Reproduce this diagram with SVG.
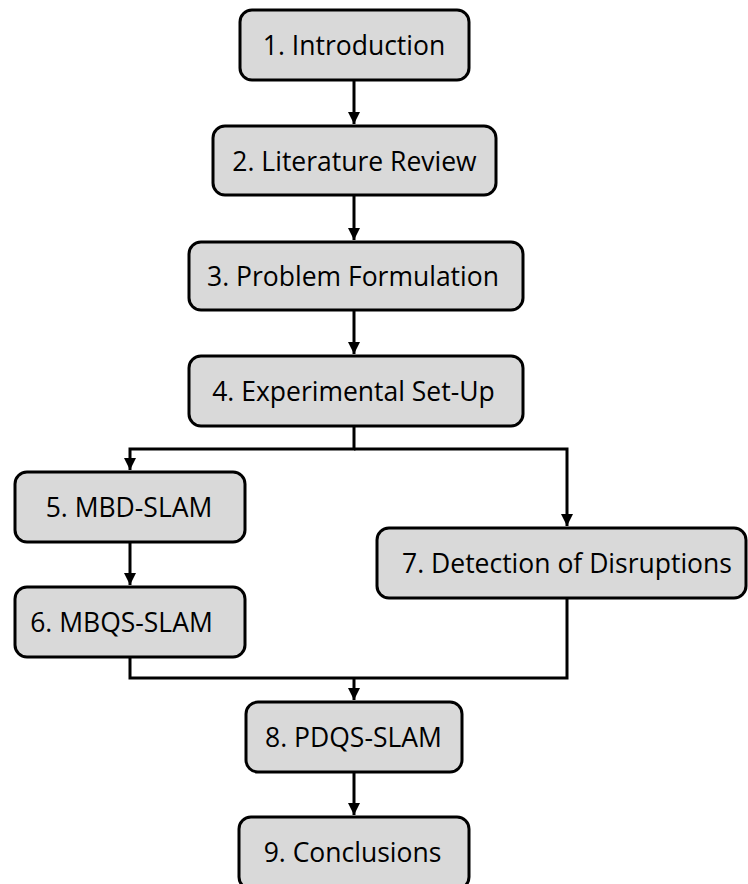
<svg xmlns="http://www.w3.org/2000/svg" width="748" height="884" viewBox="0 0 748 884">
  <style>
    .box { fill: #d9d9d9; stroke: #000; stroke-width: 3; }
    .lbl { font-family: "Open Sans", "Noto Sans", sans-serif; font-size: 26.5px; fill: #000; text-anchor: middle; dominant-baseline: central; }
    .wire { fill: none; stroke: #000; stroke-width: 3; }
  </style>
  <defs>
    <marker id="arrow" viewBox="0 0 10 10" refX="10" refY="5" markerWidth="4" markerHeight="4" markerUnits="strokeWidth" orient="auto">
      <path d="M0,0 L10,5 L0,10 z" fill="#000"/>
    </marker>
  </defs>
  <rect width="748" height="884" fill="#fff"/>

  <g id="connectors">
    <path class="wire" d="M354,80 V124" marker-end="url(#arrow)"/>
    <path class="wire" d="M354,195 V240" marker-end="url(#arrow)"/>
    <path class="wire" d="M354,310 V354" marker-end="url(#arrow)"/>
    <path class="wire" d="M354,426 V449 H130 V470" marker-end="url(#arrow)"/>
    <path class="wire" d="M354,449 H567 V526" marker-end="url(#arrow)"/>
    <path class="wire" d="M130,542 V585" marker-end="url(#arrow)"/>
    <path class="wire" d="M130,657 V678 H567 V598"/>
    <path class="wire" d="M354,678 V700" marker-end="url(#arrow)"/>
    <path class="wire" d="M354,772 V815" marker-end="url(#arrow)"/>
  </g>

  <g id="n1">
    <rect class="box" x="240" y="10" width="229" height="70" rx="12"/>
    <text class="lbl" x="354" y="45">1. Introduction</text>
  </g>
  <g id="n2">
    <rect class="box" x="213" y="126" width="283" height="69" rx="12"/>
    <text class="lbl" x="354.5" y="160.5">2. Literature Review</text>
  </g>
  <g id="n3">
    <rect class="box" x="189" y="242" width="334" height="68" rx="12"/>
    <text class="lbl" x="353" y="276">3. Problem Formulation</text>
  </g>
  <g id="n4">
    <rect class="box" x="189" y="356" width="334" height="70" rx="12"/>
    <text class="lbl" x="353.5" y="391">4. Experimental Set-Up</text>
  </g>
  <g id="n5">
    <rect class="box" x="15" y="472" width="230" height="70" rx="12"/>
    <text class="lbl" x="129" y="507">5. MBD-SLAM</text>
  </g>
  <g id="n6">
    <rect class="box" x="15" y="587" width="230" height="70" rx="12"/>
    <text class="lbl" x="121.5" y="622">6. MBQS-SLAM</text>
  </g>
  <g id="n7">
    <rect class="box" x="377" y="528" width="369" height="70" rx="12"/>
    <text class="lbl" x="567" y="563">7. Detection of Disruptions</text>
  </g>
  <g id="n8">
    <rect class="box" x="246" y="702" width="216" height="70" rx="12"/>
    <text class="lbl" x="353.5" y="737">8. PDQS-SLAM</text>
  </g>
  <g id="n9">
    <rect class="box" x="239" y="817" width="230" height="72" rx="12"/>
    <text class="lbl" x="352.5" y="852">9. Conclusions</text>
  </g>
</svg>
